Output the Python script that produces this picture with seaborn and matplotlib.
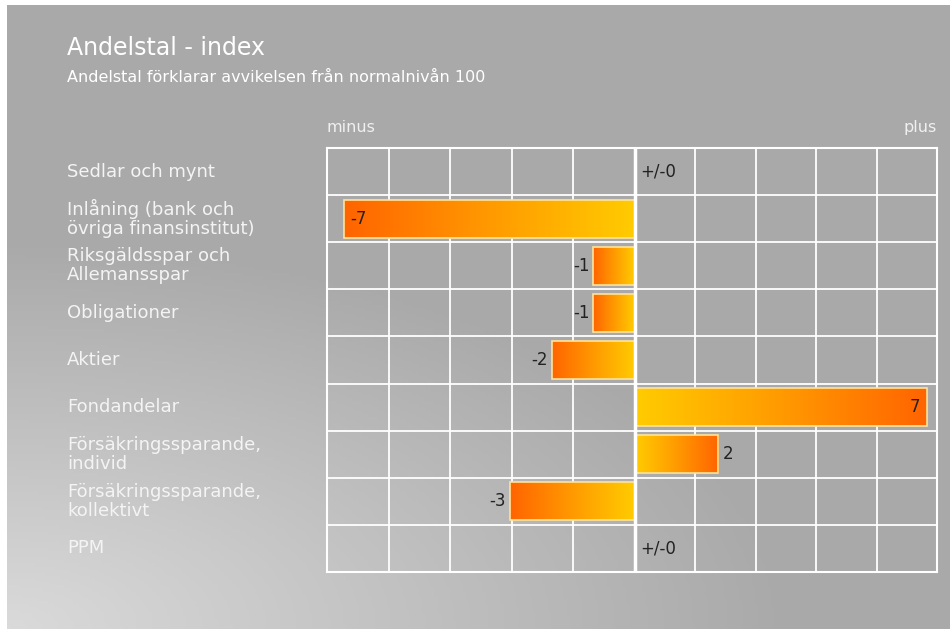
import numpy as np
import pandas as pd
import seaborn as sns
import matplotlib.pyplot as plt
from matplotlib.colors import LinearSegmentedColormap
from matplotlib.transforms import blended_transform_factory

# Data
kategorier = [
    "Sedlar och mynt",
    "Inlåning (bank och\növriga finansinstitut)",
    "Riksgäldsspar och\nAllemansspar",
    "Obligationer",
    "Aktier",
    "Fondandelar",
    "Försäkringssparande,\nindivid",
    "Försäkringssparande,\nkollektivt",
    "PPM",
]
varden = [0, -7, -1, -1, -2, 7, 2, -3, 0]

titel = "Andelstal - index"
undertitel = "Andelstal förklarar avvikelsen från normalnivån 100"

df = pd.DataFrame({"kategori": kategorier, "varde": varden})

sns.set_theme(style="white")
plt.rcParams['font.family'] = ['DejaVu Sans']

fig = plt.figure(figsize=(9.5, 6.29), dpi=100, facecolor="white")

# Bakgrund med gradient (ljusare nere till vänster)
bg = fig.add_axes([7 / 950, 0, 1 - 7 / 950, 1 - 5 / 629], zorder=-10)
yy, xx = np.mgrid[0:1:200j, 0:1:300j]
dist = np.sqrt((xx * 1.2) ** 2 + ((1 - yy) * 1.6) ** 2)
grad = np.clip(1 - dist / 1.0, 0, 1)
bg.imshow(grad, cmap=LinearSegmentedColormap.from_list("bg", ["#a9a9a9", "#dadada"]),
          aspect="auto", extent=[0, 1, 0, 1], origin="upper", vmin=0, vmax=1)
bg.set_axis_off()

ax = fig.add_axes([327 / 950, 1 - 572 / 629, (937 - 327) / 950, (572 - 148) / 629])
ax.patch.set_alpha(0)

sns.barplot(data=df, x="varde", y="kategori", orient="h", ax=ax,
            color="#ff9900", width=0.8, edgecolor="#ffe39a", linewidth=1.2)

xmin, xmax = -7.4, 7.25

# Gradient i staplarna: orange ytterst, gul vid noll
cmap_bar = LinearSegmentedColormap.from_list("bar", ["#ff6400", "#ff9a00", "#ffcc00"])
g = np.linspace(0, 1, 256).reshape(1, -1)
for patch, v in zip(ax.patches, varden):
    if v == 0:
        continue
    x0, y0 = patch.get_x(), patch.get_y()
    w, h = patch.get_width(), patch.get_height()
    left, right = min(x0, x0 + w), max(x0, x0 + w)
    data = g if v < 0 else g[:, ::-1]
    im = ax.imshow(data, cmap=cmap_bar, aspect="auto", zorder=patch.get_zorder() + 0.1,
                   extent=[left, right, y0 + h, y0])
    im.set_clip_path(patch)
    patch.set_facecolor("none")
    patch.set_zorder(patch.get_zorder() + 0.2)

ax.set_xlim(xmin, xmax)
ax.set_ylim(len(kategorier) - 0.5, -0.5)

# Rutnät
for k in range(1, 5):
    ax.axvline(xmin * k / 5, color="white", lw=1.3, zorder=0.5)
    ax.axvline(xmax * k / 5, color="white", lw=1.3, zorder=0.5)
for i in range(len(kategorier) - 1):
    ax.axhline(i + 0.5, color="white", lw=1.3, zorder=0.5)
ax.axvline(0, color="white", lw=2.5, zorder=3)
for s in ax.spines.values():
    s.set_visible(True)
    s.set_color("white")
    s.set_linewidth(1.5)

ax.set_xticks([])
ax.set_yticks([])
ax.set_xlabel("")
ax.set_ylabel("")

# Värdeetiketter
for i, v in enumerate(varden):
    if v == 0:
        ax.text(0.12, i, "+/-0", ha="left", va="center", fontsize=12, color="#222222")
    elif v <= -7:
        ax.text(v + 0.15, i, str(v), ha="left", va="center", fontsize=12, color="#222222", zorder=5)
    elif v >= 7:
        ax.text(v - 0.15, i, str(v), ha="right", va="center", fontsize=12, color="#222222", zorder=5)
    elif v < 0:
        ax.text(v - 0.1, i, str(v), ha="right", va="center", fontsize=12, color="#222222", zorder=5)
    else:
        ax.text(v + 0.1, i, str(v), ha="left", va="center", fontsize=12, color="#222222", zorder=5)

# Kategorietiketter
trans = blended_transform_factory(fig.transFigure, ax.transData)
for i, k in enumerate(kategorier):
    ax.text(67 / 950, i, k, transform=trans, ha="left", va="center",
            fontsize=13, color="#f4f4f4", linespacing=1.05)

ax.text(0, 1.03, "minus", transform=ax.transAxes, ha="left", va="bottom",
        fontsize=11.5, color="#f0f0f0")
ax.text(1, 1.03, "plus", transform=ax.transAxes, ha="right", va="bottom",
        fontsize=11.5, color="#f0f0f0")

fig.text(67 / 950, 1 - 55 / 629, titel, fontsize=17, color="white", ha="left", va="baseline")
fig.text(67 / 950, 1 - 82 / 629, undertitel, fontsize=11.5, color="white", ha="left", va="baseline")

fig.savefig("out.png", dpi=100, facecolor=fig.get_facecolor())
plt.close()
